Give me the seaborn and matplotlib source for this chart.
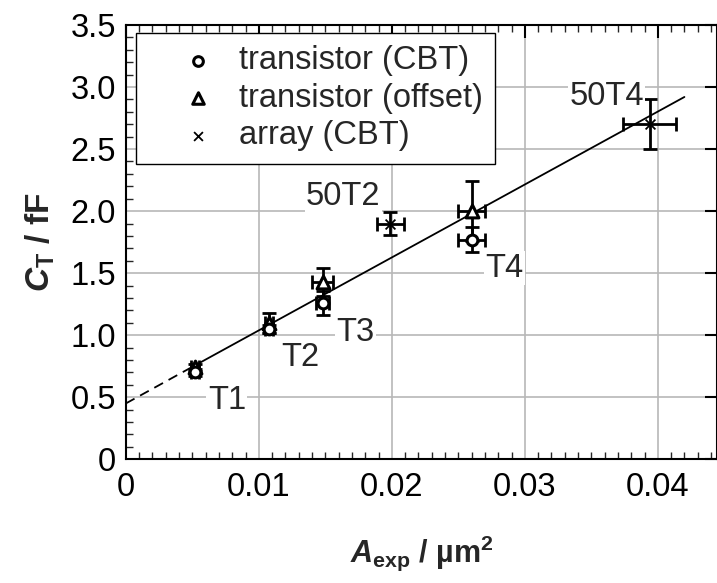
import matplotlib
matplotlib.use("Agg")
import matplotlib.pyplot as plt
import numpy as np
import pandas as pd
import seaborn as sns
from matplotlib.ticker import MultipleLocator, FuncFormatter

sns.set_theme(style="white")
plt.rcParams['font.family'] = ['Liberation Sans', 'DejaVu Sans']
plt.rcParams['mathtext.fontset'] = 'custom'
plt.rcParams['mathtext.rm'] = 'Liberation Sans:bold'
plt.rcParams['mathtext.it'] = 'Liberation Sans:bold:italic'
plt.rcParams['mathtext.bf'] = 'Liberation Sans:bold'

# single transistors, capacitance from CBT
cbt_x = [0.0052, 0.0108, 0.0148, 0.0260]
cbt_y = [0.70, 1.05, 1.26, 1.77]
cbt_xerr = [0.0003, 0.0003, 0.0005, 0.0010]
cbt_yerr = [0.03, 0.03, 0.10, 0.10]

# single transistors, capacitance from offset
off_x = [0.0052, 0.0108, 0.0148, 0.0260]
off_y = [0.74, 1.10, 1.43, 2.00]
off_xerr = [0.0003, 0.0003, 0.0008, 0.0010]
off_yerr = [0.03, 0.08, 0.11, 0.24]

# 50-junction arrays, capacitance from CBT
arr_x = [0.0199, 0.0394]
arr_y = [1.90, 2.70]
arr_xerr = [0.00105, 0.0020]
arr_yerr = [0.095, 0.20]

# linear fit, extrapolated (dashed) towards zero area
fit_x = [0.005, 0.042]
fit_y = [0.745, 2.920]
extrap_x = [0.0, 0.005]
extrap_y = [0.450, 0.745]

sample_names = ['T1', 'T2', 'T3', 'T4', '50T2', '50T4']

series_names = ['transistor (CBT)', 'transistor (offset)', 'array (CBT)']

FS = 23.5

fig = plt.figure(figsize=(7.17, 5.83), dpi=100)
ax = fig.add_axes([0.1755, 0.2122, 0.8245, 0.7449])

sns.lineplot(x=extrap_x, y=extrap_y, ax=ax, color='black', lw=1.3,
             linestyle=(0, (5.5, 3.5)), zorder=3)
sns.lineplot(x=fit_x, y=fit_y, ax=ax, color='black', lw=1.3, zorder=3)

eb = dict(fmt='none', ecolor='black', elinewidth=2.0, capsize=5,
          capthick=2.0, zorder=4)
ax.errorbar(off_x, off_y, xerr=off_xerr, yerr=off_yerr, **eb)
ax.errorbar(cbt_x, cbt_y, xerr=cbt_xerr, yerr=cbt_yerr, **eb)
ax.errorbar(arr_x, arr_y, xerr=arr_xerr, yerr=arr_yerr, **eb)

sns.scatterplot(x=off_x, y=off_y, ax=ax, marker='^', s=85,
                facecolor='white', edgecolor='black', linewidth=2.2,
                zorder=5, label=series_names[1])
sns.scatterplot(x=cbt_x, y=cbt_y, ax=ax, marker='o', s=60,
                facecolor='white', edgecolor='black', linewidth=2.2,
                zorder=6, label=series_names[0])
sns.scatterplot(x=arr_x, y=arr_y, ax=ax, marker='x', s=50,
                color='black', linewidth=1.3, zorder=6,
                label=series_names[2])

# sample labels, placed beside their markers
label_pos = [(0.0076, 0.476), (0.0131, 0.82), (0.01725, 1.02),
             (0.0285, 1.54), (0.01635, 2.116), (0.03615, 2.92)]
for name, (lx, ly) in zip(sample_names, label_pos):
    ax.text(lx, ly, name, fontsize=FS, ha='center', va='center',
            zorder=7, bbox=dict(facecolor='white', edgecolor='none',
                                pad=1.0))

ax.set_xlim(0, 0.04445)
ax.set_ylim(0, 3.5)
ax.xaxis.set_major_locator(MultipleLocator(0.01))
ax.xaxis.set_minor_locator(MultipleLocator(0.001))
ax.yaxis.set_major_locator(MultipleLocator(0.5))
ax.yaxis.set_minor_locator(MultipleLocator(0.1))
ax.xaxis.set_major_formatter(FuncFormatter(
    lambda v, p: '0' if abs(v) < 1e-12 else f'{v:.2f}'))
ax.yaxis.set_major_formatter(FuncFormatter(
    lambda v, p: '0' if abs(v) < 1e-12 else f'{v:.1f}'))

ax.grid(True, which='major', color='#b8b8b8', lw=1.2, zorder=0)
ax.set_axisbelow(True)
ax.tick_params(which='major', direction='in', top=True, right=True,
               length=9, width=1.5, labelsize=FS, colors='black')
ax.tick_params(axis='x', which='major', pad=9)
ax.tick_params(axis='y', which='major', pad=7)
ax.tick_params(which='minor', direction='in', top=True, right=False,
               left=True, bottom=True, length=5, width=1.0)
for s in ax.spines.values():
    s.set_color('black')
    s.set_linewidth(1.5)

ax.set_xlabel(r'$\mathit{A}_\mathrm{exp}$ / µm$^{\rm 2}$', fontsize=22,
              fontweight='bold', labelpad=22)
ax.set_ylabel(r'$\mathit{C}_\mathrm{T}$ / fF', fontsize=24,
              fontweight='bold', labelpad=10)

handles, labs = ax.get_legend_handles_labels()
order = [labs.index(n) for n in series_names]
leg = ax.legend([handles[i] for i in order], [labs[i] for i in order],
                loc='upper left', bbox_to_anchor=(0.017, 0.982),
                borderaxespad=0, fontsize=FS, frameon=True, fancybox=False,
                edgecolor='black', framealpha=1, labelspacing=0.2,
                handlelength=3.05, handletextpad=-0.28, borderpad=0.38,
                markerscale=0.9)
leg.get_frame().set_linewidth(1.0)
leg.set_zorder(10)

fig.savefig('out.png', dpi=100)
